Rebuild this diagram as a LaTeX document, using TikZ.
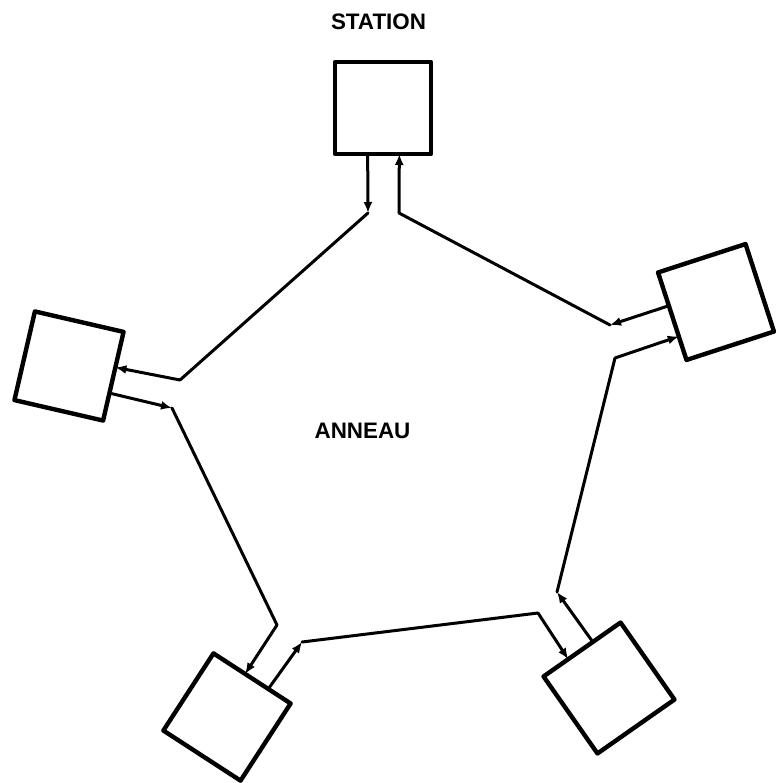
\documentclass[tikz,border=0pt]{standalone}
\usepackage{fontspec}
\setmainfont{Liberation Sans}
\usetikzlibrary{calc,arrows.meta}
\begin{document}
\begin{tikzpicture}[x=1pt,y=-1pt,
  station/.style={draw, line width=4.4pt, minimum size=92pt, inner sep=0pt,
    outer sep=0pt, line join=round},
  link/.style={line width=3pt, line join=round, line cap=round},
  flow/.style={link, -{Latex[length=11pt,width=9pt]}},
  caption/.style={font=\fontsize{22.4}{26}\selectfont\bfseries}]
\useasboundingbox (0,0) rectangle (775,783);

% stations on the ring
\node[station, minimum width=96pt] (T) at (383,108) {};
\node[station, rotate=18] (R) at (716,302) {};
\node[station, minimum size=91pt, rotate=-13] (L) at (69,366) {};
\node[station, rotate=-33] (BL) at (227,717) {};
\node[station, minimum size=94pt, rotate=35] (BR) at (609,688) {};

% labels
\node[caption] (st) at (378.5,21.5) {STATION};
\node[caption] (an) at (362.5,430.5) {ANNEAU};

% attachment points on the station borders
\coordinate (Tout)  at ($(T.south west)!0.34!(T.south east)$);
\coordinate (Tin)   at ($(T.south west)!0.67!(T.south east)$);
\coordinate (Rout)  at ($(R.north west)!0.38!(R.south west)$);
\coordinate (Rin)   at ($(R.north west)!0.73!(R.south west)$);
\coordinate (Lin)   at ($(L.north east)!0.40!(L.south east)$);
\coordinate (Lout)  at ($(L.north east)!0.69!(L.south east)$);
\coordinate (BLin)  at ($(BL.north west)!0.41!(BL.north east)$);
\coordinate (BLout) at ($(BL.north west)!0.71!(BL.north east)$);
\coordinate (BRin)  at ($(BR.north west)!0.32!(BR.north east)$);
\coordinate (BRout) at ($(BR.north west)!0.64!(BR.north east)$);

% bends of the ring
\coordinate (cTo)  at (368,213);
\coordinate (cTi)  at (399,213);
\coordinate (cLi)  at (180,380);
\coordinate (cLo)  at (172,408);
\coordinate (cBLi) at (277,625);
\coordinate (cBLo) at (302,642);
\coordinate (cBRi) at (538,613);
\coordinate (cBRo) at (557,592);
\coordinate (cRi)  at (615,358);
\coordinate (cRo)  at (610,325);

% station outputs
\draw[flow] (Tout)  -- (cTo);
\draw[flow] (Lout)  -- (cLo);
\draw[flow] (BLout) -- (cBLo);
\draw[flow] (BRout) -- (cBRo);
\draw[flow] (Rout)  -- (cRo);

% ring segments
\draw[link] (cTo)  -- (cLi);
\draw[link] (cLo)  -- (cBLi);
\draw[link] (cBLo) -- (cBRi);
\draw[link] (cBRo) -- (cRi);
\draw[link] (cRo)  -- (cTi);

% station inputs
\draw[flow] (cLi)  -- (Lin);
\draw[flow] (cBLi) -- (BLin);
\draw[flow] (cBRi) -- (BRin);
\draw[flow] (cRi)  -- (Rin);
\draw[flow] (cTi)  -- (Tin);
\end{tikzpicture}
\end{document}
